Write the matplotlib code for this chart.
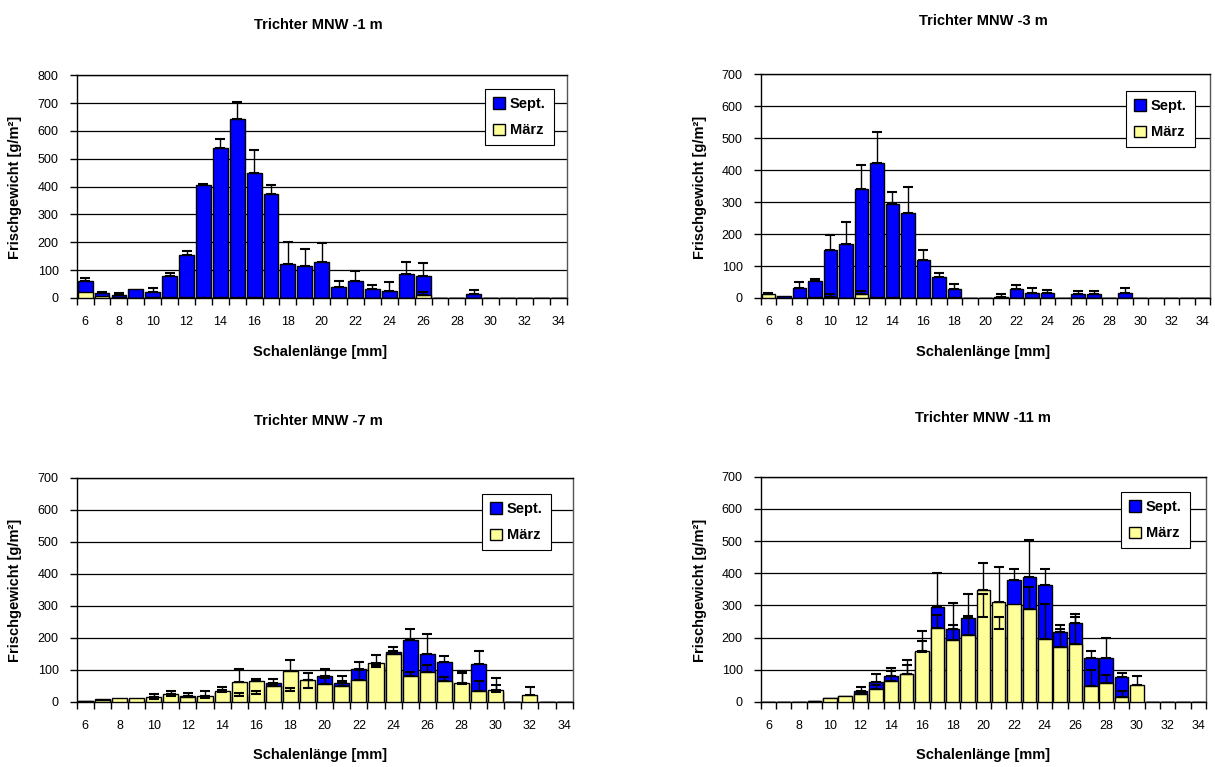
import numpy as np
import matplotlib
matplotlib.use("Agg")
import matplotlib.pyplot as plt
from matplotlib.patches import Patch

plt.rcParams['font.family'] = ['Liberation Sans', 'DejaVu Sans']

# size classes (mm)
cats = list(range(6, 35))
tick_labels = [str(c) if c % 2 == 0 else "" for c in cats]

# Trichter MNW -1 m
sept1 = [61, 18, 12, 31, 20, 79, 155, 405, 539, 642, 448, 372, 123, 114, 129, 41, 61, 31, 26, 85, 79, 0, 0, 14, 0, 0, 0, 0, 0]
sept1_err = [10, 5, 7, 0, 16, 10, 13, 6, 33, 63, 85, 33, 79, 63, 70, 19, 37, 14, 30, 43, 46, 0, 0, 16, 0, 0, 0, 0, 0]
maerz1 = [20, 8, 3, 1, 2, 2, 2, 2, 2, 3, 2, 1, 0, 0, 0, 0, 0, 0, 0, 0, 10, 0, 0, 0, 0, 0, 0, 0, 0]
maerz1_err = [0, 0, 0, 0, 0, 0, 0, 0, 0, 0, 0, 0, 0, 0, 0, 0, 0, 0, 0, 0, 12, 0, 0, 0, 0, 0, 0, 0, 0]

# Trichter MNW -3 m
sept2 = [8, 7, 30, 53, 151, 168, 341, 422, 293, 267, 118, 65, 27, 0, 0, 4, 27, 17, 17, 0, 13, 13, 0, 17, 0, 0, 0, 0, 0]
sept2_err = [0, 0, 19, 7, 46, 69, 75, 99, 39, 81, 32, 12, 17, 0, 0, 7, 13, 14, 9, 0, 10, 10, 0, 14, 0, 0, 0, 0, 0]
maerz2 = [11, 0, 0, 2, 3, 0, 11, 2, 3, 0, 0, 0, 2, 0, 0, 0, 0, 0, 0, 0, 0, 0, 0, 0, 0, 0, 0, 0, 0]
maerz2_err = [4, 0, 0, 0, 8, 0, 12, 0, 0, 0, 0, 0, 0, 0, 0, 0, 0, 0, 0, 0, 0, 0, 0, 0, 0, 0, 0, 0, 0]

# Trichter MNW -7 m
sept3 = [4, 8, 10, 10, 10, 20, 20, 12, 30, 20, 25, 60, 35, 45, 81, 58, 104, 110, 155, 193, 150, 124, 55, 120, 30, 0, 0, 0, 0]
sept3_err = [0, 0, 0, 0, 6, 5, 9, 8, 6, 9, 9, 11, 9, 25, 22, 24, 20, 5, 18, 34, 61, 21, 37, 38, 24, 0, 0, 0, 0]
maerz3 = [3, 6, 13, 13, 17, 24, 17, 20, 34, 63, 66, 50, 97, 70, 55, 50, 69, 121, 150, 81, 95, 66, 58, 33, 37, 0, 21, 0, 0]
maerz3_err = [0, 0, 0, 0, 9, 10, 3, 14, 12, 40, 5, 5, 33, 20, 19, 14, 31, 25, 10, 14, 21, 11, 39, 34, 37, 0, 26, 0, 0]

# Trichter MNW -11 m
sept4 = [0, 0, 0, 3, 13, 18, 33, 62, 81, 88, 155, 295, 226, 260, 263, 226, 380, 388, 362, 217, 247, 136, 136, 77, 0, 0, 0, 0, 0]
sept4_err = [0, 0, 0, 0, 0, 0, 14, 24, 26, 43, 33, 107, 82, 77, 71, 37, 34, 116, 52, 21, 27, 24, 63, 13, 0, 0, 0, 0, 0]
maerz4 = [0, 0, 0, 3, 13, 18, 25, 41, 64, 86, 160, 229, 192, 208, 349, 312, 306, 290, 196, 171, 179, 50, 58, 17, 54, 0, 0, 0, 0]
maerz4_err = [0, 0, 0, 0, 0, 0, 5, 12, 31, 30, 62, 41, 47, 58, 82, 106, 0, 68, 110, 57, 85, 49, 27, 16, 28, 0, 0, 0, 0]

panels = [
    ("Trichter MNW -1 m", sept1, sept1_err, maerz1, maerz1_err, 800),
    ("Trichter MNW -3 m", sept2, sept2_err, maerz2, maerz2_err, 700),
    ("Trichter MNW -7 m", sept3, sept3_err, maerz3, maerz3_err, 700),
    ("Trichter MNW -11 m", sept4, sept4_err, maerz4, maerz4_err, 700),
]

# pixel boxes: left, right, top, bottom
boxes = [(76.7, 566.7, 75.3, 298), (760.7, 1210, 74.3, 298),
         (76.7, 572.7, 477.7, 702), (760.7, 1206, 476.7, 702)]
title_pos = [(318, 25), (983, 21), (318, 421), (983, 418)]
ylab_pos = [(15, 187), (700, 187), (15, 590), (700, 590)]
xlab_pos = [(320, 352), (983, 352), (320, 755), (983, 755)]
leg_pos = [(485, 89), (1126, 91), (482, 494), (1121, 492)]

W, H = 1215, 767
fig = plt.figure(figsize=(W / 100, H / 100), dpi=100)

blue = "#0000FF"
yellow = "#FFFF99"
x = np.arange(len(cats))

for i, (title, s, se, m, me, ymax) in enumerate(panels):
    l, r, t, b = boxes[i]
    ax = fig.add_axes([l / W, 1 - b / H, (r - l) / W, (b - t) / H])
    s = np.array(s, float); se = np.array(se, float)
    m = np.array(m, float); me = np.array(me, float)

    ax.bar(x, s, width=0.88, color=blue, edgecolor="black", linewidth=1, zorder=2)
    ax.bar(x, m, width=0.88, color=yellow, edgecolor="black", linewidth=1, zorder=3)
    for vals, errs in ((s, se), (m, me)):
        k = errs > 0
        ax.errorbar(x[k], vals[k], yerr=[np.zeros(k.sum()), errs[k]], fmt="none",
                    ecolor="black", elinewidth=1, capsize=3.5, capthick=1.5, zorder=4)

    ax.set_xlim(-0.5, len(cats) - 0.5)
    ax.set_ylim(0, ymax)
    ax.set_yticks(np.arange(0, ymax + 1, 100))
    ax.yaxis.grid(True, color="black", linewidth=0.9, zorder=0)
    ax.set_axisbelow(True)

    ax.set_xticks(np.arange(-0.5, len(cats), 1))
    ax.set_xticklabels([])
    ax.set_xticks(x, minor=True)
    ax.set_xticklabels(tick_labels, minor=True)
    ax.tick_params(axis="x", which="major", length=5, width=1, direction="out")
    ax.tick_params(axis="x", which="minor", length=0, pad=13, labelsize=9)
    ax.tick_params(axis="y", length=5, width=1, direction="out", pad=8, labelsize=9)
    for sp in ax.spines.values():
        sp.set_linewidth(1)
        sp.set_color("black")
    ax.spines["right"].set_color("#555555")

    fig.text(title_pos[i][0] / W, 1 - title_pos[i][1] / H, title, ha="center", va="center",
             fontsize=10.5, fontweight="bold")
    fig.text(ylab_pos[i][0] / W, 1 - ylab_pos[i][1] / H, "Frischgewicht [g/m²]", ha="center",
             va="center", rotation=90, fontsize=10.5, fontweight="bold")
    fig.text(xlab_pos[i][0] / W, 1 - xlab_pos[i][1] / H, "Schalenlänge [mm]", ha="center",
             va="center", fontsize=10.5, fontweight="bold")

    handles = [Patch(facecolor=blue, edgecolor="black", label="Sept."),
               Patch(facecolor=yellow, edgecolor="black", label="März")]
    leg = ax.legend(handles=handles, loc="upper left",
                    bbox_to_anchor=(leg_pos[i][0] / W, 1 - leg_pos[i][1] / H),
                    bbox_transform=fig.transFigure, fancybox=False, framealpha=1,
                    edgecolor="black", handlelength=0.8, handleheight=0.8,
                    handletextpad=0.35, borderpad=0.55, labelspacing=0.85,
                    borderaxespad=0, prop={"weight": "bold", "size": 10.5})
    leg.get_frame().set_linewidth(0.8)
    leg.set_zorder(10)

fig.savefig("out.png", dpi=100)
